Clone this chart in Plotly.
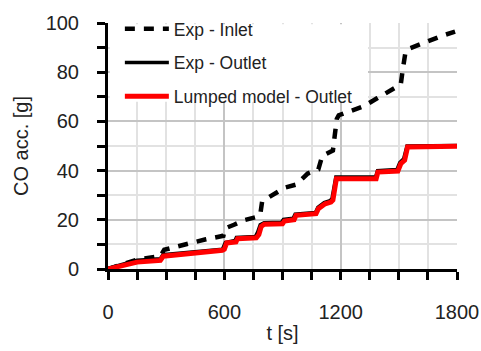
import plotly.graph_objects as go

# Cumulative CO mass [g] versus time [s]
t_inlet = [0, 75, 150, 270, 290, 350, 440, 500, 595, 603, 650, 700, 760, 785, 795, 840,
           910, 970, 1030, 1085, 1105, 1160, 1170, 1180, 1190, 1260, 1320, 1390, 1430,
           1510, 1520, 1535, 1560, 1660, 1730, 1790]
co_inlet = [0, 2, 3.8, 5.2, 7.8, 9, 11, 12, 13.5, 16.5, 18, 19.8, 21, 22, 27.5, 29.5,
            33, 34.3, 38.8, 40.5, 46, 48.2, 54, 61, 62.5, 64.5, 66.2, 69.5, 71.5,
            75, 81, 88.5, 89.8, 93, 95, 96.5]

t_outlet = [0, 150, 270, 283, 590, 605, 655, 662, 760, 772, 785, 805, 895, 905, 955, 965,
            1070, 1082, 1115, 1145, 1155, 1175, 1380, 1390, 1490, 1505, 1525, 1542, 1800]
co_outlet = [0.3, 3.6, 4.2, 5.8, 8, 10.8, 11.6, 12.8, 13.2, 15, 18, 18.8, 19, 20.2, 20.6, 22.3,
             23, 25, 27, 27.8, 28.5, 37.4, 37.4, 40, 40.4, 43.3, 44.8, 50, 50.2]

t_model = [0, 150, 270, 285, 590, 600, 612, 660, 668, 765, 778, 790, 806, 900, 910, 960,
           970, 1073, 1085, 1120, 1150, 1160, 1178, 1383, 1392, 1495, 1510, 1530, 1545, 1800]
co_model = [0, 2.8, 3.5, 5.2, 7.6, 8, 10.6, 11, 12.3, 12.7, 14, 17.3, 18.2, 18.4, 19.5, 20,
            21.8, 22.5, 24.5, 26.5, 27.2, 28, 36.7, 36.7, 39.4, 39.8, 42.8, 44.2, 49.6, 49.9]

x_ticks = [0, 600, 1200, 1800]
y_ticks = [0, 20, 40, 60, 80, 100]

font_family = "Liberation Sans, Arial, sans-serif"

fig = go.Figure()
fig.add_trace(go.Scatter(x=t_inlet, y=co_inlet, mode="lines", name="Exp - Inlet",
                         legendgroup="a",
                         line=dict(color="black", width=4.5, dash="10px,9px")))
fig.add_trace(go.Scatter(x=t_outlet, y=co_outlet, mode="lines", name="Exp - Outlet",
                         legendgroup="b",
                         line=dict(color="black", width=3.5)))
fig.add_trace(go.Scatter(x=t_model, y=co_model, mode="lines", name="Lumped model - Outlet",
                         legendgroup="c",
                         line=dict(color="#ff0000", width=5)))

# white panel behind the legend entries
fig.add_shape(type="rect", xref="paper", yref="paper",
              x0=0.005, x1=0.745, y0=0.68, y1=0.995,
              fillcolor="white", line=dict(width=0), layer="above")

fig.update_layout(
    width=481, height=351,
    margin=dict(l=108, r=24, t=22, b=82),
    paper_bgcolor="white", plot_bgcolor="white",
    font=dict(family=font_family, size=20, color="#222"),
    showlegend=True,
    legend=dict(x=0.034, y=1.045, xanchor="left", yanchor="top", bgcolor="rgba(0,0,0,0)",
                font=dict(size=17.5, color="#222"), tracegroupgap=8,
                itemwidth=44, borderwidth=0),
)

fig.update_xaxes(
    range=[0, 1800], tickvals=x_ticks, ticktext=[str(v) for v in x_ticks],
    automargin=False,
    showline=True, linecolor="black", linewidth=3,
    ticks="outside", ticklen=8, tickwidth=2.5, tickcolor="black",
    ticklabelstandoff=15,
    showgrid=True, gridcolor="#c4c4c4", gridwidth=1.5, zeroline=False,
    minor=dict(dtick=150, ticks="outside", ticklen=8, tickwidth=2.5, tickcolor="black",
               showgrid=True, gridcolor="#e2e2e2", gridwidth=1.5),
    title=dict(text="t [s]", standoff=4, font=dict(size=20)),
)
fig.update_yaxes(
    range=[0, 100], tickvals=y_ticks, ticktext=[str(v) for v in y_ticks],
    automargin=False,
    showline=True, linecolor="black", linewidth=3,
    ticks="outside", ticklen=8, tickwidth=2.5, tickcolor="black",
    ticklabelstandoff=14,
    showgrid=True, gridcolor="#c4c4c4", gridwidth=1.5, zeroline=False,
    minor=dict(dtick=10, ticks="outside", ticklen=8, tickwidth=2.5, tickcolor="black",
               showgrid=True, gridcolor="#e2e2e2", gridwidth=1.5),
    title=dict(text="CO acc. [g]", standoff=12, font=dict(size=20)),
)

fig.write_html("out.html")
